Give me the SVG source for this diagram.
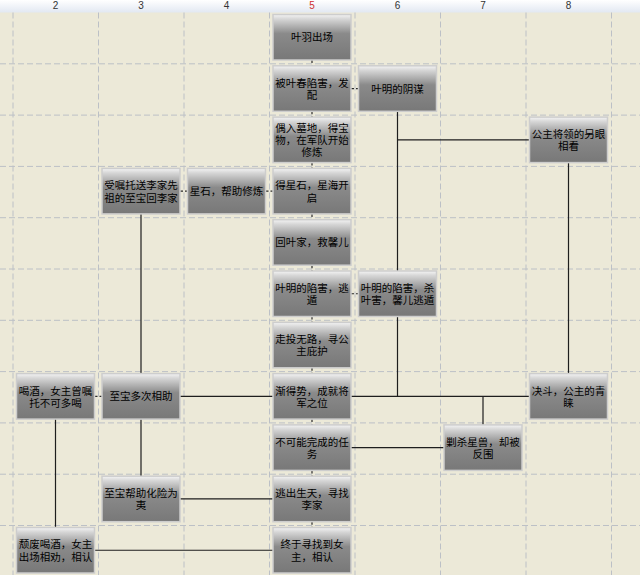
<svg xmlns="http://www.w3.org/2000/svg" width="640" height="575" viewBox="0 0 640 575">
<defs>
<linearGradient id="nodeFill" x1="0" y1="0" x2="0" y2="1">
<stop offset="0" stop-color="#f4f4f4"/>
<stop offset="0.1" stop-color="#d6d6d6"/>
<stop offset="0.42" stop-color="#8a8a8a"/>
<stop offset="1" stop-color="#787878"/>
</linearGradient>
<linearGradient id="hdrFill" x1="0" y1="0" x2="0" y2="1">
<stop offset="0" stop-color="#ffffff"/>
<stop offset="1" stop-color="#e2e8f2"/>
</linearGradient>
</defs>
<style>
.grid{stroke:#bcc0c6;stroke-width:1;stroke-dasharray:6 3;fill:none}
.hdr{font-family:"Liberation Sans",Arial,sans-serif;font-size:10px;fill:#333;text-anchor:middle}
.node rect{fill:url(#nodeFill);stroke:#cdcdcd;stroke-width:1.5}
.node text{font-family:"Liberation Sans","Noto Sans CJK SC",sans-serif;font-size:10.5px;fill:#000;text-anchor:middle}
.link{stroke:#1e1e1e;stroke-width:1.2;fill:none}
.short{stroke:#2a2a2a;stroke-width:1.2;fill:none;stroke-dasharray:3 2}
</style>
<rect width="640" height="575" fill="#ece9d8"/>
<rect width="640" height="12.5" fill="url(#hdrFill)"/>
<g id="header">
<text class="hdr" x="55.5" y="9">2</text>
<text class="hdr" x="141" y="9">3</text>
<text class="hdr" x="226.5" y="9">4</text>
<text class="hdr" x="312" y="9" style="fill:#d03030">5</text>
<text class="hdr" x="397.5" y="9">6</text>
<text class="hdr" x="483" y="9">7</text>
<text class="hdr" x="568.5" y="9">8</text>
</g>
<g id="grid">
<path class="grid" d="M13 12.5V575M98.5 12.5V575M184 12.5V575M269.5 12.5V575M355 12.5V575M440.5 12.5V575M526 12.5V575M611.5 12.5V575"/>
<path class="grid" d="M0 63.8H640M0 115.1H640M0 166.4H640M0 217.7H640M0 269H640M0 320.3H640M0 371.6H640M0 422.9H640M0 474.2H640M0 525.5H640"/>
</g>
<g id="connectors">
<path class="short" d="M312 60V65.8M312 111.3V117.1M312 162.6V168.4M312 213.9V219.7M312 265.2V271M312 316.5V322.3M312 367.8V373.6M312 419.1V424.9M312 470.4V476.2M312 521.7V527.5"/>
<path class="short" d="M351 88.55H358.5M180 191.15H187.5M265.5 191.15H273M351 293.75H358.5M94.5 396.35H102"/>
<path class="link" d="M397.5 111.3V396.35M397.5 139.85H529.5M568.5 162.6V373.6M141 213.9V373.6M141 419.1V476.2M180 396.35H273M351 396.35H529.5M483 396.35V424.9M351 447.65H444M180 498.95H273M94.5 550.25H273M55.5 419.1V527.5"/>
</g>
<g id="n1" class="node"><rect x="273" y="14.5" width="78" height="45.5"/><text x="312" y="41.25">叶羽出场</text></g>
<g id="n2" class="node"><rect x="273" y="65.8" width="78" height="45.5"/><text x="312" y="86.7">被叶春陷害，发<tspan x="312" dy="12.2">配</tspan></text></g>
<g id="n3" class="node"><rect x="358.5" y="65.8" width="78" height="45.5"/><text x="397.5" y="92.55">叶明的阴谋</text></g>
<g id="n4" class="node"><rect x="273" y="117.1" width="78" height="45.5"/><text x="312" y="131.65">偶入墓地，得宝<tspan x="312" dy="12.2">物，在军队开始</tspan><tspan x="312" dy="12.2">修炼</tspan></text></g>
<g id="n5" class="node"><rect x="529.5" y="117.1" width="78" height="45.5"/><text x="568.5" y="138">公主将领的另眼<tspan x="568.5" dy="12.2">相看</tspan></text></g>
<g id="n6" class="node"><rect x="102" y="168.4" width="78" height="45.5"/><text x="141" y="189.3">受嘱托送李家先<tspan x="141" dy="12.2">祖的至宝回李家</tspan></text></g>
<g id="n7" class="node"><rect x="187.5" y="168.4" width="78" height="45.5"/><text x="226.5" y="195.15">星石，帮助修炼</text></g>
<g id="n8" class="node"><rect x="273" y="168.4" width="78" height="45.5"/><text x="312" y="189.3">得星石，星海开<tspan x="312" dy="12.2">启</tspan></text></g>
<g id="n9" class="node"><rect x="273" y="219.7" width="78" height="45.5"/><text x="312" y="246.45">回叶家，救馨儿</text></g>
<g id="n10" class="node"><rect x="273" y="271" width="78" height="45.5"/><text x="312" y="291.9">叶明的陷害，逃<tspan x="312" dy="12.2">遁</tspan></text></g>
<g id="n11" class="node"><rect x="358.5" y="271" width="78" height="45.5"/><text x="397.5" y="291.9">叶明的陷害，杀<tspan x="397.5" dy="12.2">叶害，馨儿逃遁</tspan></text></g>
<g id="n12" class="node"><rect x="273" y="322.3" width="78" height="45.5"/><text x="312" y="343.2">走投无路，寻公<tspan x="312" dy="12.2">主庇护</tspan></text></g>
<g id="n13" class="node"><rect x="16.5" y="373.6" width="78" height="45.5"/><text x="55.5" y="394.5">喝酒，女主曾嘱<tspan x="55.5" dy="12.2">托不可多喝</tspan></text></g>
<g id="n14" class="node"><rect x="102" y="373.6" width="78" height="45.5"/><text x="141" y="400.35">至宝多次相助</text></g>
<g id="n15" class="node"><rect x="273" y="373.6" width="78" height="45.5"/><text x="312" y="394.5">渐得势，成就将<tspan x="312" dy="12.2">军之位</tspan></text></g>
<g id="n16" class="node"><rect x="529.5" y="373.6" width="78" height="45.5"/><text x="568.5" y="394.5">决斗，公主的青<tspan x="568.5" dy="12.2">睐</tspan></text></g>
<g id="n17" class="node"><rect x="273" y="424.9" width="78" height="45.5"/><text x="312" y="445.8">不可能完成的任<tspan x="312" dy="12.2">务</tspan></text></g>
<g id="n18" class="node"><rect x="444" y="424.9" width="78" height="45.5"/><text x="483" y="445.8">剿杀星兽，却被<tspan x="483" dy="12.2">反围</tspan></text></g>
<g id="n19" class="node"><rect x="102" y="476.2" width="78" height="45.5"/><text x="141" y="497.1">至宝帮助化险为<tspan x="141" dy="12.2">夷</tspan></text></g>
<g id="n20" class="node"><rect x="273" y="476.2" width="78" height="45.5"/><text x="312" y="497.1">逃出生天，寻找<tspan x="312" dy="12.2">李家</tspan></text></g>
<g id="n21" class="node"><rect x="16.5" y="527.5" width="78" height="45.5"/><text x="55.5" y="548.4">颓废喝酒，女主<tspan x="55.5" dy="12.2">出场相劝，相认</tspan></text></g>
<g id="n22" class="node"><rect x="273" y="527.5" width="78" height="45.5"/><text x="312" y="548.4">终于寻找到女<tspan x="312" dy="12.2">主，相认</tspan></text></g>
</svg>
